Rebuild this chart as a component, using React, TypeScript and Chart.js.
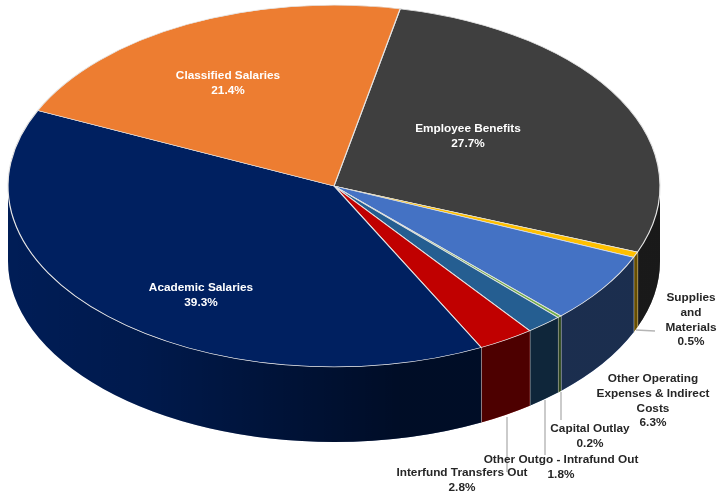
import React, { useEffect, useRef } from "react";
import { Chart, registerables } from "chart.js";

Chart.register(...registerables);

// Budget shares, clockwise from the top-right wedge.
const sliceNames = [
  "Employee Benefits",
  "Supplies and Materials",
  "Other Operating Expenses & Indirect Costs",
  "Capital Outlay",
  "Other Outgo - Intrafund Out",
  "Interfund Transfers Out",
  "Academic Salaries",
  "Classified Salaries",
];
const sliceShares = [27.7, 0.5, 6.3, 0.2, 1.8, 2.8, 39.3, 21.4];
const sliceColors = ["#3f3f3f", "#ffc000", "#4472c4", "#70ad47", "#255e91", "#c00000", "#002060", "#ed7d31"];

// Wrapped label lines per slice, same order as sliceNames.
const labelLines = [
  ["Employee Benefits"],
  ["Supplies", "and", "Materials"],
  ["Other Operating", "Expenses & Indirect", "Costs"],
  ["Capital Outlay"],
  ["Other Outgo - Intrafund Out"],
  ["Interfund Transfers Out"],
  ["Academic Salaries"],
  ["Classified Salaries"],
];

// Canvas placement of each label: centre x, first baseline-centre y, colour.
const labelAnchors: [number, number, string][] = [
  [468, 129, "#ffffff"],
  [691, 298, "#262626"],
  [653, 379, "#262626"],
  [590, 429, "#262626"],
  [561, 460, "#262626"],
  [462, 473, "#262626"],
  [201, 288, "#ffffff"],
  [228, 76, "#ffffff"],
];

const leaderLines = [
  [636, 330, 655, 331],
  [561, 392, 561, 420],
  [545, 400, 545, 455],
  [507, 417, 507, 472],
];

const TILT = 0.555;
const DEPTH = 75;

function tiltedFrame(chart: any) {
  const arc = chart.getDatasetMeta(0).data[0];
  return { cx: arc.x, cy: arc.y, rx: arc.outerRadius, ry: arc.outerRadius * TILT };
}

const tiltedPie = {
  id: "tiltedPie",
  beforeDatasetsDraw(chart: any) {
    const ctx = chart.ctx;
    const { cx, cy, rx, ry } = tiltedFrame(chart);
    const arcs = chart.getDatasetMeta(0).data;

    // Side wall: only the part of each wedge that faces the viewer.
    arcs.forEach((arc: any, i: number) => {
      [-2, 0, 2].forEach((turn) => {
        const a = Math.max(arc.startAngle + turn * Math.PI, 0);
        const b = Math.min(arc.endAngle + turn * Math.PI, Math.PI);
        if (b <= a) return;
        const trace = () => {
          ctx.beginPath();
          ctx.ellipse(cx, cy, rx, ry, 0, a, b, false);
          ctx.ellipse(cx, cy + DEPTH, rx, ry, 0, b, a, true);
          ctx.closePath();
        };
        const shade = ctx.createLinearGradient(cx - rx, 0, cx + rx, 0);
        shade.addColorStop(0, "rgba(0,0,0,0.1)");
        shade.addColorStop(0.2, "rgba(0,0,0,0.2)");
        shade.addColorStop(0.6, "rgba(0,0,0,0.6)");
        shade.addColorStop(1, "rgba(0,0,0,0.6)");
        trace();
        ctx.fillStyle = sliceColors[i];
        ctx.fill();
        trace();
        ctx.fillStyle = shade;
        ctx.fill();

        // Seam down the wall where one wedge meets the next.
        if (b < Math.PI && i < arcs.length - 1) {
          const x = cx + rx * Math.cos(b);
          const y = cy + ry * Math.sin(b);
          ctx.beginPath();
          ctx.moveTo(x, y);
          ctx.lineTo(x, y + DEPTH);
          ctx.strokeStyle = "#bfbfbf";
          ctx.lineWidth = 1.3;
          ctx.stroke();
        }
      });
    });

    // Flatten the wedges into the top ellipse.
    ctx.save();
    ctx.translate(cx, cy);
    ctx.scale(1, TILT);
    ctx.translate(-cx, -cy);
  },
  afterDatasetsDraw(chart: any) {
    chart.ctx.restore();
  },
  afterDraw(chart: any) {
    const ctx = chart.ctx;
    ctx.save();
    ctx.strokeStyle = "#b5b5b5";
    ctx.lineWidth = 1.4;
    leaderLines.forEach(([x1, y1, x2, y2]) => {
      ctx.beginPath();
      ctx.moveTo(x1, y1);
      ctx.lineTo(x2, y2);
      ctx.stroke();
    });

    ctx.font = 'bold 11.8px "Liberation Sans"';
    ctx.textAlign = "center";
    ctx.textBaseline = "middle";
    labelLines.forEach((lines, i) => {
      const [x, y, color] = labelAnchors[i];
      ctx.fillStyle = color;
      [...lines, `${sliceShares[i].toFixed(1)}%`].forEach((line, n) => {
        ctx.fillText(line, x, y + n * 14.7);
      });
    });
    ctx.restore();
  },
};

export default function App() {
  const canvasRef = useRef<HTMLCanvasElement>(null);

  useEffect(() => {
    const chart = new Chart(canvasRef.current!, {
      type: "pie",
      data: {
        labels: sliceNames,
        datasets: [
          {
            data: sliceShares,
            backgroundColor: sliceColors,
            borderColor: "#e4e4e4",
            borderWidth: 1.2,
            radius: 326,
            clip: false,
          } as any,
        ],
      },
      options: {
        responsive: false,
        animation: false,
        rotation: 11.7,
        layout: { padding: { left: 0, top: 0, right: 49, bottom: 121 } },
        plugins: { legend: { display: false }, tooltip: { enabled: false } },
      },
      plugins: [tiltedPie],
    });
    return () => chart.destroy();
  }, []);

  return (
    <canvas
      ref={canvasRef}
      width={717}
      height={493}
      style={{ position: "fixed", left: 0, top: 0, display: "block" }}
    />
  );
}
